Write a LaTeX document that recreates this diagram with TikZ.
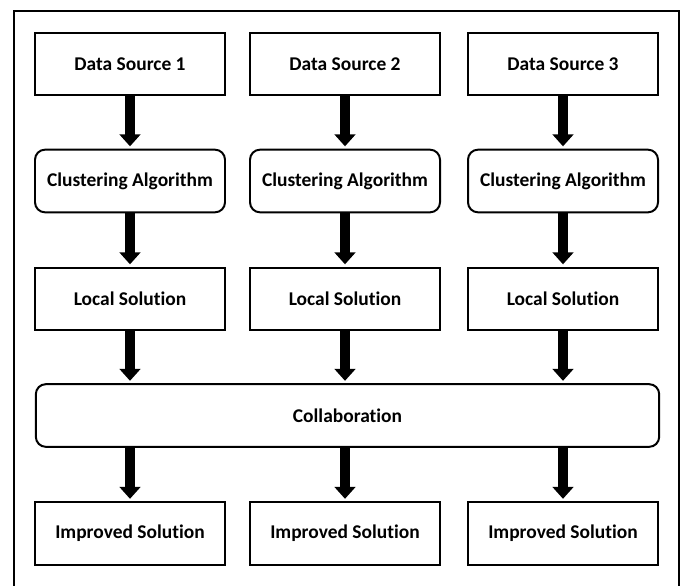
\documentclass[tikz,border=0pt]{standalone}
\usepackage{fontspec}
\setmainfont{Carlito}[Ligatures=NoCommon]
\usepackage{tikz}
\usetikzlibrary{calc,arrows.meta}
\tikzstyle{block} = [draw, line width=1.7pt, rectangle, minimum height=1.88cm, minimum width=5.7cm, font=\fontsize{16.6}{20}\selectfont\bfseries]
\tikzstyle{rblock} = [block, rounded corners=0.3cm]
\tikzstyle{fat} = [line width=8pt, -{Triangle[width=0.62cm,length=0.36cm]}, shorten >=2pt]

\begin{document}
\begin{tikzpicture}
\useasboundingbox (0,0) rectangle (20.49,-17.58);
%% Outer frame %%
\draw[line width=1.7pt] (0.42,-17.7) -- (0.42,-0.33) -- (20.37,-0.33) -- (20.37,-17.7);

%% Data sources %%
\node [block] (Source1) at (3.9,-1.92) {Data Source 1};
\node [block] (Source2) at ($(Source1)+(6.45,0)$) {Data Source 2};
\node [block] (Source3) at ($(Source2)+(6.54,0)$) {Data Source 3};

%% Clustering %%
\node [rblock] (Cluster1) at ($(Source1)+(0,-3.51)$) {Clustering Algorithm};
\node [rblock] (Cluster2) at ($(Source2)+(0,-3.51)$) {Clustering Algorithm};
\node [rblock] (Cluster3) at ($(Source3)+(0,-3.51)$) {Clustering Algorithm};

%% Local solutions %%
\node [block] (Local1) at ($(Cluster1)+(0,-3.54)$) {Local Solution};
\node [block] (Local2) at ($(Cluster2)+(0,-3.54)$) {Local Solution};
\node [block] (Local3) at ($(Cluster3)+(0,-3.54)$) {Local Solution};

%% Collaboration %%
\node [rblock, minimum width=18.7cm] (Collab) at ($(Local2)+(0.075,-3.495)$) {Collaboration};

%% Improved solutions %%
\node [block] (Improved1) at ($(Local1)+(0,-7.035)$) {Improved Solution};
\node [block] (Improved2) at ($(Local2)+(0,-7.035)$) {Improved Solution};
\node [block] (Improved3) at ($(Local3)+(0,-7.035)$) {Improved Solution};

%% Forbindelser %%
\draw[fat] (Source1) -- (Cluster1);
\draw[fat] (Source2) -- (Cluster2);
\draw[fat] (Source3) -- (Cluster3);
\draw[fat] (Cluster1) -- (Local1);
\draw[fat] (Cluster2) -- (Local2);
\draw[fat] (Cluster3) -- (Local3);
\draw[fat] (Local1.south) -- (Local1.south |- Collab.north);
\draw[fat] (Local2.south) -- (Local2.south |- Collab.north);
\draw[fat] (Local3.south) -- (Local3.south |- Collab.north);
\draw[fat] (Collab.south -| Improved1.north) -- (Improved1.north);
\draw[fat] (Collab.south -| Improved2.north) -- (Improved2.north);
\draw[fat] (Collab.south -| Improved3.north) -- (Improved3.north);

\end{tikzpicture}
\end{document}
